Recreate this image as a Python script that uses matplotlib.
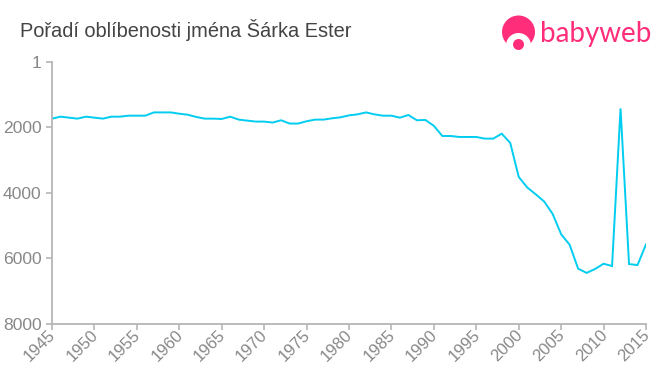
import numpy as np
import matplotlib
matplotlib.use("Agg")
import matplotlib.pyplot as plt
from matplotlib.patches import Circle
from matplotlib.transforms import ScaledTranslation

plt.rcParams['font.family'] = ['Liberation Sans', 'DejaVu Sans']

# data
years = list(range(1945, 2016))
rank = [1730, 1670, 1700, 1730, 1670, 1700, 1730, 1670, 1670, 1640,
        1640, 1640, 1540, 1540, 1540, 1580, 1610, 1680, 1730, 1730,
        1740, 1670, 1760, 1790, 1820, 1820, 1850, 1780, 1880, 1880,
        1810, 1760, 1760, 1720, 1690, 1630, 1600, 1540, 1600, 1640,
        1640, 1700, 1620, 1780, 1770, 1950, 2260, 2260, 2290, 2290,
        2290, 2340, 2340, 2190, 2470, 3510, 3830, 4040, 4260, 4640,
        5260, 5580, 6310, 6440, 6320, 6160, 6230, 1420, 6170, 6200,
        5570]
y_ticks = [1, 2000, 4000, 6000, 8000]
x_ticks = list(range(1945, 2016, 5))
title = 'Pořadí oblíbenosti jména Šárka Ester'

W, H = 660, 375
fig = plt.figure(figsize=(W / 100, H / 100), dpi=100)
ax = fig.add_axes([52 / W, 1 - 324 / H, (646 - 52) / W, (324 - 62) / H])

ax.plot(years, rank, color='#00cdf0', lw=1.4, solid_joinstyle='miter')
ax.set_xlim(1945, 2015)
ax.set_ylim(8000, 1)

ax.spines['top'].set_visible(False)
ax.spines['right'].set_visible(False)
ax.spines['left'].set_color('#b5b5b5')
ax.spines['bottom'].set_color('#b5b5b5')
ax.spines['left'].set_linewidth(1.3)
ax.spines['bottom'].set_linewidth(1.3)

ax.set_yticks(y_ticks)
ax.set_xticks(x_ticks)
ax.tick_params(axis='both', color='#b5b5b5', width=1.2, length=4,
               labelcolor='#888888', labelsize=12, pad=2)
ax.tick_params(axis='y', labelsize=12.6, pad=3.5)
ax.tick_params(axis='x', pad=0)
# pull the rotated year labels up to the ticks
shift = ScaledTranslation(-3 / 72, 2 / 72, fig.dpi_scale_trans)
for lab in ax.get_xticklabels():
    lab.set_rotation(45)
    lab.set_ha('right')
    lab.set_va('top')
    lab.set_rotation_mode('anchor')
    lab.set_transform(lab.get_transform() + shift)

fig.text(20 / W, 1 - 30 / H, title, fontsize=14.4, color='#444444', va='center')

# logo, in pixel coordinates
logo = fig.add_axes([0, 0, 1, 1], facecolor='none')
logo.set_xlim(0, W)
logo.set_ylim(H, 0)
logo.axis('off')
pink = '#ff2d7a'
logo.add_patch(Circle((518.5, 32), 16.5, color=pink, lw=0))
logo.add_patch(Circle((518.5, 45.5), 12.5, color='white', lw=0))
logo.add_patch(Circle((518.5, 44.5), 5.5, color=pink, lw=0))
logo.text(540, 34, 'babyweb', fontsize=20, color=pink, family='Lato',
          va='center', ha='left')

fig.savefig('out.png', dpi=100)
